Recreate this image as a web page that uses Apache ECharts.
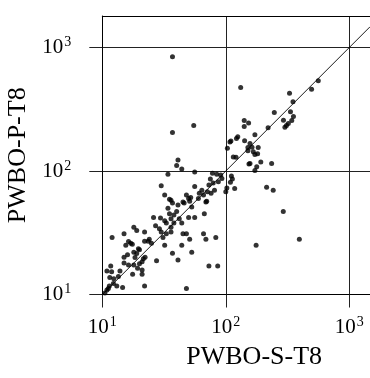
<!DOCTYPE html>
<html><head><meta charset="utf-8">
<script src="https://cdn.jsdelivr.net/npm/echarts@6/dist/echarts.min.js"></script>
<style>html,body{margin:0;padding:0;background:#fff}#c{width:370px;height:378px}</style>
</head><body><div id="c"></div>
<script>
// PWBO-S-T8 (x) and PWBO-P-T8 (y) values
const sValues = [132,328,495,561,350,247,334,353,342,321,310,301,293,141,153,141,220,172,125,122,110,142,157,103,151,183,163,115,121,151,167,172,181,154,192,178,172,235,108,157,
84.5,91,93,87,111,113,109,118,102,100,75,79,73,81,76,71,64,66,60,69,56,56,61,70,214,242,292,394,176,37,55,37,41,40,44,34,30,32,35,36,37,45,50,51,48,52,
46,53,34,35,38,40,36,42,38,44,33,36,36,50,56,67,45,48,51,66,69,83,32,44,37,53,41,73,86,48,26,32,27,29,33,31,18,19,15,12,24,23.5,25,22,17,17.5,15.5,20,18,19,16,15,21.5,21,27.5,20,11.7,15,18,21,17.6,21,10.9,11.9,13.9,11.5,12.4,13.5,12.3,11.4,13.1,14.6,22,10.9,11.2,10.5,22,30,16.3,19.6,18.4,22.2,19.3,16.3,41,29.6,78];
const pValues = [474,426,459,538,363,298,302,276,256,243,234,226,258,256,245,229,224,197,189,183,175,176,167,153,155,155,156,130,129,146,143,136,138,114,118,108,101,115,172,115,
94,93,87,82,91,86,81,72,73,68,86,80,77,70,66,68,70,64,60,56,98,75,66,57,74,70,47,28,25,840,234,205,123,111,104,94,76,64,59,58,55,56,60,57,64,61,
55,51,50,45,44,47,41,41,38,38,38,35,32,42,42,45,31,31,28,31,28,29,25,25,21.6,22,19,17,17,11.2,42,39.5,36,34,31,29,35,33,31,29,28,27,26,27,26,25.5,25,23,22,21.5,21,20,19.5,18.4,18.8,17.7,17,18,17.3,15.8,14.6,14.6,15.5,15.3,15.5,13.7,13.4,14,12.3,11.7,11.7,11.4,11.7,10.9,11.2,10.3,32,32,26.8,23.5,19.9,20,16.3,17.3,53,41.7,96];
const tickValues = [10, 100, 1000];
const xRange = [10, 1471];
const yRange = [10, 1799];
const diagonal = [10, 1471];

const FONT = 'Liberation Serif';
const points = sValues.map((v, i) => [v, pValues[i]]);
const supFmt = v => '{b|10}{s|' + Math.round(Math.log10(v)) + '}';
const rich = {
  b: {fontSize: 21, fontFamily: FONT, color: '#000', lineHeight: 24},
  s: {fontSize: 14, fontFamily: FONT, color: '#000', verticalAlign: 'top', lineHeight: 24, padding: [0, 0, 10, 1]}
};
const lineStyle = {color: '#000', width: 1};

const chart = echarts.init(document.getElementById('c'), null, {renderer: 'canvas'});
chart.setOption({
  animation: false,
  backgroundColor: '#fff',
  grid: {left: 102.3, right: 0, top: 16, bottom: 83.5, containLabel: false, outerBoundsMode: 'none'},
  xAxis: [{
    type: 'log', logBase: 10, min: xRange[0], max: xRange[1],
    name: 'PWBO-S-T8', nameLocation: 'middle', nameGap: 45,
    nameTextStyle: {fontFamily: FONT, fontSize: 26, color: '#000', padding: [0, 0, 0, 36]},
    axisLine: {show: true, onZero: false, lineStyle: lineStyle},
    axisTick: {show: true, inside: false, length: 13, customValues: tickValues, lineStyle: {color: '#222', width: 1}},
    axisLabel: {customValues: tickValues, formatter: supFmt, rich: rich, margin: 21},
    splitLine: {show: true, lineStyle: {color: '#222', width: 1}},
    minorTick: {show: false}, minorSplitLine: {show: false}
  }, {
    type: 'log', logBase: 10, min: xRange[0], max: xRange[1], position: 'top',
    axisLine: {show: true, lineStyle: lineStyle},
    axisTick: {show: false}, axisLabel: {show: false}, splitLine: {show: false}
  }],
  yAxis: {
    type: 'log', logBase: 10, min: yRange[0], max: yRange[1],
    name: 'PWBO-P-T8', nameLocation: 'middle', nameGap: 61, nameRotate: 90,
    nameTextStyle: {fontFamily: FONT, fontSize: 26, color: '#000'},
    axisLine: {show: true, onZero: false, lineStyle: lineStyle},
    axisTick: {show: true, inside: false, length: 13, customValues: tickValues, lineStyle: {color: '#222', width: 1}},
    axisLabel: {customValues: tickValues, formatter: supFmt, rich: rich, margin: 31},
    splitLine: {show: true, lineStyle: {color: '#222', width: 1}}
  },
  series: [{
    type: 'line', xAxisIndex: 0, data: [[diagonal[0], diagonal[0]], [diagonal[1], diagonal[1]]],
    symbol: 'none', lineStyle: {color: '#000', width: 0.9}, silent: true
  }, {
    type: 'scatter', xAxisIndex: 0, data: points, symbol: 'circle', symbolSize: 5,
    itemStyle: {color: '#000'}
  }]
});
</script></body></html>
